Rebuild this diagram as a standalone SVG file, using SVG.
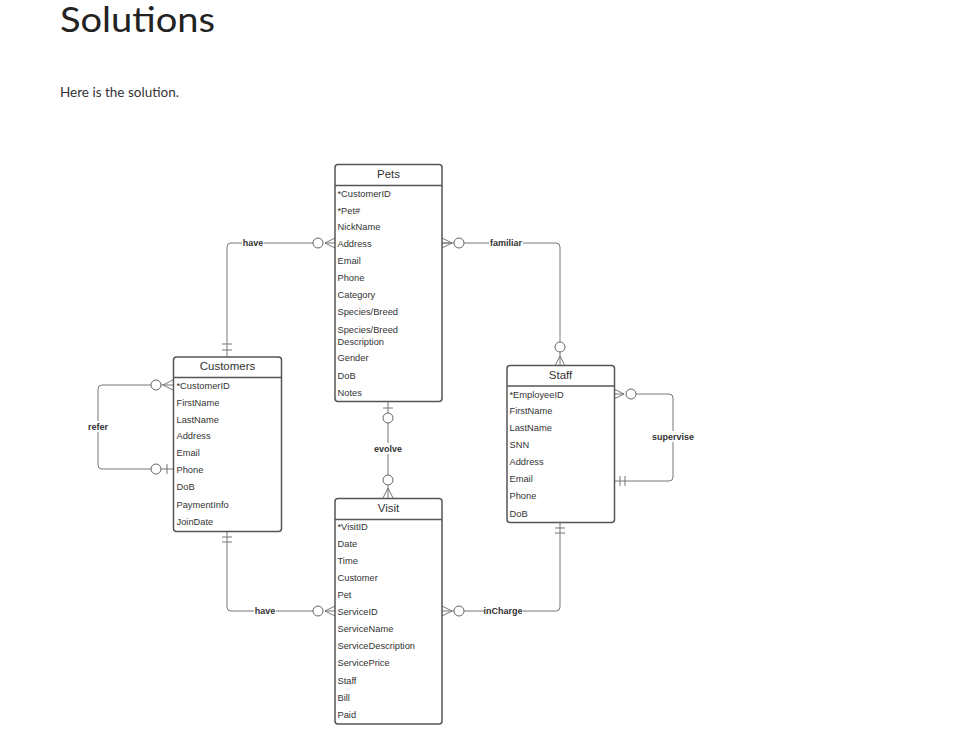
<svg xmlns="http://www.w3.org/2000/svg" width="978" height="746" viewBox="0 0 978 746">
<style>
.bg{fill:#fff}
.ent{fill:#fff;stroke:#555;stroke-width:1.5}
.hl{stroke:#555;stroke-width:1.3}
.hd{font-family:"Liberation Sans",Arial,sans-serif;font-size:11.5px;fill:#333;text-anchor:middle}
.at{font-family:"Liberation Sans",Arial,sans-serif;font-size:9.3px;fill:#333}
.cn{fill:none;stroke:#777;stroke-width:1}
.ci{fill:#fff;stroke:#666;stroke-width:1}
.lb{font-family:"Liberation Sans",Arial,sans-serif;font-size:9px;font-weight:bold;fill:#333;text-anchor:middle}
.title{font-family:Lato,"Open Sans",sans-serif;font-size:35px;fill:#222}
.body{font-family:Lato,"Open Sans",sans-serif;font-size:13.5px;fill:#333}
</style>
<rect class="bg" x="0" y="0" width="978" height="746"/>
<text class="title" x="60" y="32" textLength="155" lengthAdjust="spacingAndGlyphs">Solutions</text>
<text class="body" x="60" y="97">Here is the solution.</text>

<g id="connectors">
  <!-- Customers - Pets : have -->
  <path class="cn" d="M227,357 V247 Q227,243 231,243 H313"/>
  <path class="cn" d="M222,344 H232 M222,350 H232"/>
  <path class="cn" d="M325,243 L335,238 M325,243 L335,243 M325,243 L335,248"/>
  <circle class="ci" cx="318" cy="243" r="5"/>
  <rect class="bg" x="242" y="237" width="22" height="11"/>
  <text class="lb" x="253" y="246">have</text>

  <!-- Pets - Staff : familiar -->
  <path class="cn" d="M442,243 H556 Q560,243 560,247 V342"/>
  <path class="cn" d="M452,243 L442,238 M452,243 L442,243 M452,243 L442,248"/>
  <path class="cn" d="M454,243 H464"/>
  <circle class="ci" cx="459" cy="243" r="5"/>
  <path class="cn" d="M560,352 V366 M560,356 L555,366 M560,356 L565,366"/>
  <circle class="ci" cx="560" cy="347" r="5"/>
  <rect class="bg" x="489" y="237" width="34" height="11"/>
  <text class="lb" x="506" y="246">familiar</text>

  <!-- Customers refer -->
  <path class="cn" d="M151,385 H102 Q98,385 98,389 V465 Q98,469 102,469 H151"/>
  <path class="cn" d="M161,385 H173 M163,385 L173,380 M163,385 L173,390"/>
  <circle class="ci" cx="156" cy="385" r="5"/>
  <path class="cn" d="M161,469 H173 M167,464 V474"/>
  <circle class="ci" cx="156" cy="469" r="5"/>
  <rect class="bg" x="86" y="421" width="25" height="11"/>
  <text class="lb" x="98" y="430">refer</text>

  <!-- Staff supervise -->
  <path class="cn" d="M636,394 H669 Q673,394 673,398 V477 Q673,481 669,481 H614"/>
  <path class="cn" d="M624,394 L614,389 M624,394 L614,394 M624,394 L614,399"/>
  <circle class="ci" cx="631" cy="394" r="5"/>
  <path class="cn" d="M620,476 V486 M625,476 V486"/>
  <rect class="bg" x="650" y="431" width="46" height="11"/>
  <text class="lb" x="673" y="440">supervise</text>

  <!-- Pets - Visit : evolve -->
  <path class="cn" d="M388,402 V413 M388,423 V475"/>
  <path class="cn" d="M383,408 H393"/>
  <circle class="ci" cx="388" cy="418" r="5"/>
  <circle class="ci" cx="388" cy="480" r="5"/>
  <path class="cn" d="M388,485 V498 M388,488 L383,498 M388,488 L393,498"/>
  <rect class="bg" x="372" y="443" width="32" height="11"/>
  <text class="lb" x="388" y="452">evolve</text>

  <!-- Customers - Visit : have -->
  <path class="cn" d="M227,531 V607 Q227,611 231,611 H313"/>
  <path class="cn" d="M222,537 H232 M222,542 H232"/>
  <path class="cn" d="M325,611 L335,606 M325,611 L335,611 M325,611 L335,616"/>
  <circle class="ci" cx="318" cy="611" r="5"/>
  <rect class="bg" x="254" y="605" width="22" height="11"/>
  <text class="lb" x="265" y="614">have</text>

  <!-- Staff - Visit : inCharge -->
  <path class="cn" d="M464,611 H556 Q560,611 560,607 V523"/>
  <path class="cn" d="M452,611 L442,606 M452,611 L442,611 M452,611 L442,616 M452,611 H454"/>
  <circle class="ci" cx="459" cy="611" r="5"/>
  <path class="cn" d="M555,528 H565 M555,533 H565"/>
  <rect class="bg" x="484" y="605" width="39" height="11"/>
  <text class="lb" x="503" y="614">inCharge</text>
</g>

<g id="pets">
  <rect class="ent" x="335" y="164.5" width="107" height="237" rx="3"/>
  <line class="hl" x1="335" y1="185.5" x2="442" y2="185.5"/>
  <text class="hd" x="388.5" y="178">Pets</text>
  <text class="at" x="337.5" y="196.5">*CustomerID</text>
  <text class="at" x="337.5" y="213.5">*Pet#</text>
  <text class="at" x="337.5" y="230">NickName</text>
  <text class="at" x="337.5" y="246.5">Address</text>
  <text class="at" x="337.5" y="263.5">Email</text>
  <text class="at" x="337.5" y="280.5">Phone</text>
  <text class="at" x="337.5" y="298">Category</text>
  <text class="at" x="337.5" y="315">Species/Breed</text>
  <text class="at" x="337.5" y="332.5">Species/Breed</text>
  <text class="at" x="337.5" y="344.5">Description</text>
  <text class="at" x="337.5" y="361">Gender</text>
  <text class="at" x="337.5" y="378.5">DoB</text>
  <text class="at" x="337.5" y="395.5">Notes</text>
</g>

<g id="customers">
  <rect class="ent" x="173.5" y="357" width="108" height="174.5" rx="3"/>
  <line class="hl" x1="173.5" y1="377.5" x2="281.5" y2="377.5"/>
  <text class="hd" x="227.5" y="370">Customers</text>
  <text class="at" x="176.5" y="389">*CustomerID</text>
  <text class="at" x="176.5" y="405.5">FirstName</text>
  <text class="at" x="176.5" y="422.5">LastName</text>
  <text class="at" x="176.5" y="439">Address</text>
  <text class="at" x="176.5" y="456">Email</text>
  <text class="at" x="176.5" y="473">Phone</text>
  <text class="at" x="176.5" y="490">DoB</text>
  <text class="at" x="176.5" y="507.5">PaymentInfo</text>
  <text class="at" x="176.5" y="525">JoinDate</text>
</g>

<g id="staff">
  <rect class="ent" x="507" y="365.5" width="107.5" height="157" rx="3"/>
  <line class="hl" x1="507" y1="386" x2="614.5" y2="386"/>
  <text class="hd" x="560.5" y="379">Staff</text>
  <text class="at" x="509.5" y="397.5">*EmployeeID</text>
  <text class="at" x="509.5" y="414">FirstName</text>
  <text class="at" x="509.5" y="431">LastName</text>
  <text class="at" x="509.5" y="447.5">SNN</text>
  <text class="at" x="509.5" y="464.5">Address</text>
  <text class="at" x="509.5" y="481.5">Email</text>
  <text class="at" x="509.5" y="499">Phone</text>
  <text class="at" x="509.5" y="516.5">DoB</text>
</g>

<g id="visit">
  <rect class="ent" x="335" y="498.5" width="107" height="225.5" rx="3"/>
  <line class="hl" x1="335" y1="519.5" x2="442" y2="519.5"/>
  <text class="hd" x="388.5" y="511.5">Visit</text>
  <text class="at" x="337.5" y="530">*VisitID</text>
  <text class="at" x="337.5" y="546.5">Date</text>
  <text class="at" x="337.5" y="563.5">Time</text>
  <text class="at" x="337.5" y="580.5">Customer</text>
  <text class="at" x="337.5" y="597.5">Pet</text>
  <text class="at" x="337.5" y="614.5">ServiceID</text>
  <text class="at" x="337.5" y="631.5">ServiceName</text>
  <text class="at" x="337.5" y="648.5">ServiceDescription</text>
  <text class="at" x="337.5" y="666">ServicePrice</text>
  <text class="at" x="337.5" y="683.5">Staff</text>
  <text class="at" x="337.5" y="700.5">Bill</text>
  <text class="at" x="337.5" y="717.5">Paid</text>
</g>
</svg>
